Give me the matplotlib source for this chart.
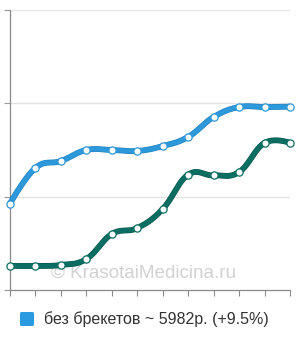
import numpy as np
import matplotlib
matplotlib.use("Agg")
import matplotlib.pyplot as plt
import matplotlib.patheffects as pe
from matplotlib.patches import FancyBboxPatch

# ---- data ----
x_idx = list(range(12))
blue_vals = [5463, 5654, 5691, 5750, 5750, 5745, 5771, 5820, 5927, 5980, 5980, 5982]
green_vals = [5129, 5129, 5134, 5166, 5300, 5332, 5434, 5618, 5614, 5632, 5788, 5788]
y_ticks = [5000, 5500, 6000, 6500]
legend_label = "без брекетов ~ 5982р. (+9.5%)"
watermark = "© KrasotaiMedicina.ru"

BLUE = "#2d98da"
GREEN = "#0b6e62"


def spline(xs, ys, n=30, k=0.4):
    """Cardinal-type spline (Highcharts smoothing, no clamping)."""
    xs = np.asarray(xs, float)
    ys = np.asarray(ys, float)
    N = len(xs)
    slopes = np.zeros(N)
    for i in range(N):
        if 0 < i < N - 1:
            slopes[i] = (ys[i + 1] - ys[i - 1]) / (xs[i + 1] - xs[i - 1])
    outx, outy = [], []
    t = np.linspace(0, 1, n)
    for i in range(N - 1):
        dx = xs[i + 1] - xs[i]
        p0 = np.array([xs[i], ys[i]])
        p1 = np.array([xs[i + 1], ys[i + 1]])
        c0 = p0 + np.array([k * dx, k * dx * slopes[i]]) if 0 < i else p0
        c1 = p1 - np.array([k * dx, k * dx * slopes[i + 1]]) if i + 1 < N - 1 else p1
        b = ((1 - t) ** 3)[:, None] * p0 + (3 * (1 - t) ** 2 * t)[:, None] * c0 \
            + (3 * (1 - t) * t ** 2)[:, None] * c1 + (t ** 3)[:, None] * p1
        outx.extend(b[:, 0])
        outy.extend(b[:, 1])
    return np.array(outx), np.array(outy)


plt.rcParams['font.family'] = ['Liberation Sans', 'DejaVu Sans']
fig = plt.figure(figsize=(3.0, 3.4), dpi=100)
ax = fig.add_axes([10 / 300, 50 / 340, 280 / 300, 280 / 340])
ax.set_xlim(0, 11)
ax.set_ylim(5000, 6500)

for yt in y_ticks[1:]:
    ax.axhline(yt, color="#e3e3e3", lw=1.0, zorder=0)

for spine in ["top", "right"]:
    ax.spines[spine].set_visible(False)
ax.spines["left"].set_color("#8a8a8a")
ax.spines["bottom"].set_color("#8a8a8a")
ax.spines["left"].set_linewidth(0.9)
ax.spines["bottom"].set_linewidth(0.9)
ax.set_yticks(y_ticks)
ax.set_yticklabels([])
ax.set_xticks(x_idx)
ax.set_xticklabels([])
ax.tick_params(axis="y", length=4, color="#9a9a9a", width=0.8)
ax.tick_params(axis="x", length=4, color="#8a8a8a", width=0.8)

ax.text(5.25, 5091, watermark, fontsize=13.6, color="#d2d2d2", ha="center", va="center", zorder=1)

for vals, col, dark in [(green_vals, GREEN, "#06554b"), (blue_vals, BLUE, "#1f7fc0")]:
    sx, sy = spline(x_idx, vals)
    ax.plot(sx, sy, color=col, lw=3.4, solid_capstyle="round", zorder=3,
            path_effects=[pe.Stroke(linewidth=4.2, foreground=dark), pe.Normal()],
            clip_on=False)
    ax.plot(x_idx, vals, ls="none", marker="o", ms=5.2, mfc="white", mec=col,
            mew=0.9, zorder=4, clip_on=False)

# legend
sq = FancyBboxPatch((20 / 300, 1 - 326 / 340), 14 / 300, 14 / 340,
                    boxstyle="round,pad=0,rounding_size=0.005",
                    transform=fig.transFigure, facecolor="#2a9be0", edgecolor="none")
fig.patches.append(sq)
fig.text(44 / 300, 1 - 319.5 / 340, legend_label, fontsize=11.5, color="#333333",
         ha="left", va="center")

fig.savefig("out.png", dpi=100)
